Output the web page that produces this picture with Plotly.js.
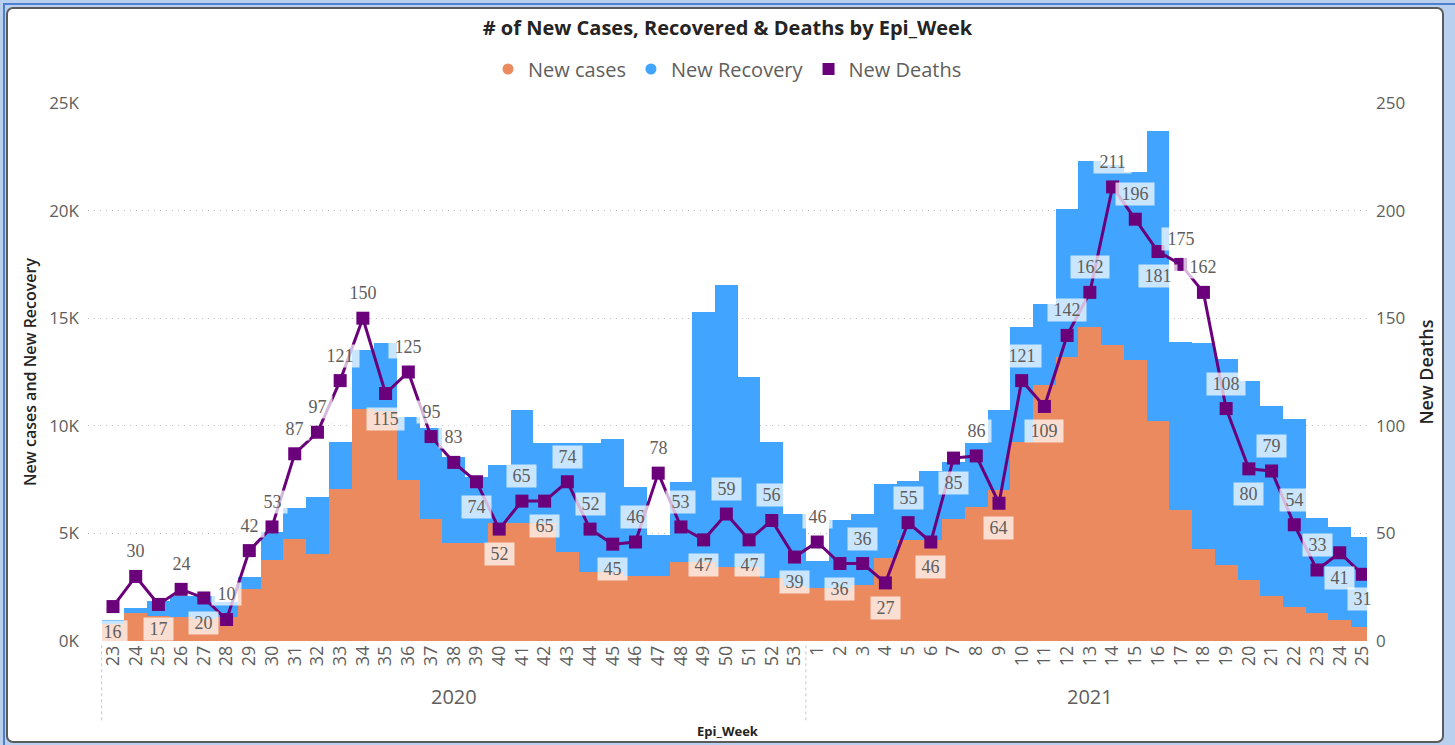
<!DOCTYPE html>
<html>
<head>
<meta charset="utf-8">
<script src="https://cdn.plot.ly/plotly-3.0.1.min.js"></script>
<style>
  html,body{margin:0;padding:0;background:#B9D1EF;width:1455px;height:745px;overflow:hidden;}
  #edge{position:absolute;left:3px;top:3px;width:1452px;height:742px;border-left:2px solid #4E7FD1;border-top:2px solid #4E7FD1;box-sizing:border-box;}
  #frame{position:absolute;left:6px;top:7px;width:1438px;height:736px;background:#fff;border:2px solid #5b5b5b;border-radius:7px;box-sizing:border-box;}
  #chart{position:absolute;left:0;top:0;width:1455px;height:745px;}
</style>
</head>
<body>
<div id="edge"></div>
<div id="frame"></div>
<div id="chart"></div>
<script>
// ---- data ----
const years = [
  "2020","2020","2020","2020","2020","2020","2020","2020","2020","2020","2020",
  "2020","2020","2020","2020","2020","2020","2020","2020","2020","2020","2020",
  "2020","2020","2020","2020","2020","2020","2020","2020","2020",
  "2021","2021","2021","2021","2021","2021","2021","2021","2021","2021","2021",
  "2021","2021","2021","2021","2021","2021","2021","2021","2021","2021","2021",
  "2021","2021","2021"
];
const weeks = [
  "23","24","25","26","27","28","29","30","31","32","33","34","35","36","37","38",
  "39","40","41","42","43","44","45","46","47","48","49","50","51","52","53",
  "1","2","3","4","5","6","7","8","9","10","11","12","13","14","15","16","17",
  "18","19","20","21","22","23","24","25"
];
const newCases = [
  800,1290,1180,1130,1000,1100,2400,3760,4720,4040,7050,10770,10700,7500,5650,4540,
  4540,5470,5470,5470,4150,3220,3220,3000,3000,3690,3690,3450,3450,2930,2550,
  2450,2450,2600,3840,4690,4700,5650,6250,7030,9270,11890,13180,14610,13770,13040,10210,6090,
  4270,3530,2830,2090,1560,1280,980,670
];
const newRecovery = [
  170,230,690,970,1100,700,590,1320,1440,2660,2210,2730,3130,2900,4250,4020,
  3060,2710,5260,3720,5040,5970,6180,4150,1930,3690,11580,13090,8800,6320,3350,
  1250,3170,3280,3440,2760,3180,2680,2930,3720,5340,3750,6900,7680,8330,8760,13500,7820,
  9600,9560,9270,8830,8740,4420,4300,4180
];
const newDeaths = [
  16,30,17,24,20,10,42,53,87,97,121,150,115,125,95,83,
  74,52,65,65,74,52,45,46,78,53,47,59,47,56,39,
  46,36,36,27,55,46,85,86,64,121,109,142,162,211,196,181,175,
  162,108,80,79,54,33,41,31
];
// label placement: 1 = above the point, -1 = below
const labelSide = [
  -1,1,-1,1,-1,1,1,1,1,1,1,1,-1,1,1,1,
  -1,-1,1,-1,1,1,-1,1,1,1,-1,1,-1,1,-1,
  1,-1,1,-1,1,-1,-1,1,-1,1,-1,1,1,1,1,-1,1,
  1,1,-1,1,1,1,-1,-1
];
const yLeftTicks = [0,5000,10000,15000,20000,25000];
const yLeftTickText = ["0K","5K","10K","15K","20K","25K"];

const C_CASES = "#EB895F", C_REC = "#41A5FF", C_DEATH = "#6B007B";
const FONT_UI = "Open Sans, Noto Sans, sans-serif";
const tickFont = {family:FONT_UI, size:18, color:"#605E5C"};
const idx = weeks.map((w,i)=>i);

const traces = [
  {type:"bar", name:"New cases", x:idx, y:newCases, marker:{color:C_CASES, line:{width:0}}, showlegend:false},
  {type:"bar", name:"New Recovery", x:idx, y:newRecovery, marker:{color:C_REC, line:{width:0}}, showlegend:false},
  {type:"scatter", mode:"lines+markers", name:"New Deaths", x:idx, y:newDeaths, yaxis:"y2",
   line:{color:C_DEATH, width:3}, marker:{symbol:"square", size:13, color:C_DEATH}, showlegend:false},
  // legend entries
  {type:"scatter", mode:"markers", name:"New cases", x:[idx[0]], y:[null], marker:{symbol:"circle", size:11, color:C_CASES}},
  {type:"scatter", mode:"markers", name:"New Recovery", x:[idx[0]], y:[null], marker:{symbol:"circle", size:11, color:C_REC}},
  {type:"scatter", mode:"markers", name:"New Deaths", x:[idx[0]], y:[null], yaxis:"y2", marker:{symbol:"square", size:12, color:C_DEATH}}
];

const NB = "\u00a0";
const annotations = newDeaths.map((d,i)=>({
  x:idx[i], y:d, xref:"x", yref:"y2", text:NB+String(d)+NB, showarrow:false,
  yshift: labelSide[i]*25,
  bgcolor:"rgba(255,255,255,0.72)", borderpad:1,
  font:{family:"Liberation Serif, DejaVu Serif, serif", size:18, color:"#5f5d5b"}
}));

// year group labels + dividers, derived from the years array
const groups = [];
years.forEach((y,i)=>{
  if(!groups.length || groups[groups.length-1].year!==y) groups.push({year:y, first:i, last:i});
  else groups[groups.length-1].last = i;
});
groups.forEach(g=>{
  annotations.push({x:(g.first+g.last)/2, y:-0.104, xref:"x", yref:"paper", text:g.year,
    showarrow:false, yanchor:"middle", font:{family:FONT_UI, size:20, color:"#605E5C"}});
});
const shapes = [];
const bounds = [groups[0].first-0.5].concat(groups.map(g=>g.last+0.5));
bounds.forEach(b=>{
  shapes.push({type:"line", xref:"x", yref:"paper", x0:b, x1:b, y0:-0.008, y1:-0.148,
    line:{color:"#C8C6C4", width:1, dash:"dot"}});
});

const layout = {
  width:1455, height:745,
  paper_bgcolor:"rgba(0,0,0,0)", plot_bgcolor:"rgba(0,0,0,0)",
  margin:{l:88, r:88, t:103, b:104, pad:0},
  barmode:"stack", bargap:0,
  title:{text:"# of New Cases, Recovered & Deaths by Epi_Week", x:0.5, xanchor:"center",
         yref:"container", y:1-28/745, yanchor:"middle",
         font:{family:FONT_UI, size:20, color:"#252423", weight:700}},
  legend:{orientation:"h", x:0.5, xanchor:"center", y:1+34/538, yanchor:"middle",
          font:{family:FONT_UI, size:20, color:"#605E5C"},
          itemwidth:30, traceorder:"normal", bgcolor:"rgba(0,0,0,0)"},
  xaxis:{type:"linear", range:[-1.1,55.2], tickvals:idx, ticktext:weeks, tickangle:-90, tickfont:tickFont,
         showgrid:false, zeroline:false, showline:false, ticks:"",
         title:{text:"Epi_Week", font:{family:FONT_UI, size:13, color:"#252423", weight:700}, standoff:61}},
  yaxis:{range:[0,25000], tickvals:yLeftTicks, ticktext:yLeftTickText, showgrid:true,
         gridcolor:"#BDBBB9", griddash:"1px,5px", gridwidth:1, zeroline:false, showline:false, ticks:"",
         tickfont:{family:FONT_UI, size:17, color:"#605E5C"}, ticklabelstandoff:8,
         title:{text:"New cases and New Recovery", font:{family:FONT_UI, size:16, color:"#252423", weight:600}, standoff:8}},
  yaxis2:{overlaying:"y", side:"right", range:[0,250], dtick:50, showgrid:false, zeroline:false, showline:false, ticks:"",
          tickfont:{family:FONT_UI, size:17, color:"#605E5C"}, ticklabelstandoff:8,
          title:{text:"New Deaths", font:{family:FONT_UI, size:18, color:"#252423", weight:600}, standoff:16}},
  annotations:annotations,
  shapes:shapes,
  showlegend:true
};

Plotly.newPlot("chart", traces, layout, {displayModeBar:false, staticPlot:true});
</script>
</body>
</html>
